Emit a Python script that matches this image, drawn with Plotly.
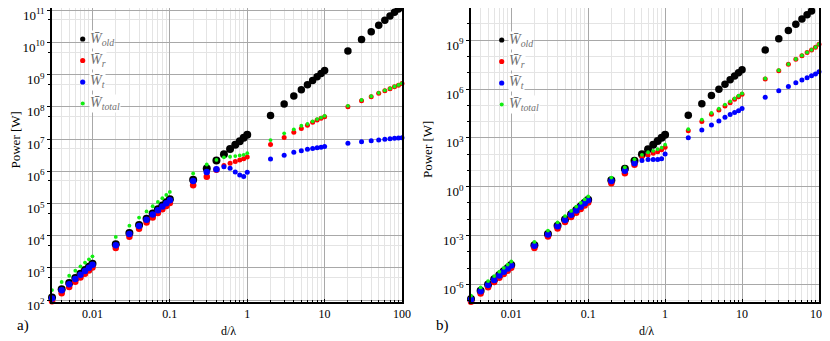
import math
import plotly.graph_objects as go

SERIF = "Liberation Serif, Times New Roman, serif"

# d/lambda sample points (same for both panels)
d_lambda = [0.003, 0.004, 0.005, 0.006, 0.007, 0.008, 0.009, 0.01,
            0.02, 0.03, 0.04, 0.05, 0.06, 0.07, 0.08, 0.09, 0.1,
            0.2, 0.3, 0.4, 0.5, 0.6, 0.7, 0.8, 0.9, 1,
            2, 3, 4, 5, 6, 7, 8, 9, 10,
            20, 30, 40, 50, 60, 70, 80, 90, 100]

# panel a) values [W]
a_old = [121, 216, 337, 485, 661, 863, 1090, 1350,
         5400, 12150, 21600, 33750, 48600, 66150, 86400, 109000, 135000,
         5.4e5, 1.22e6, 2.16e6, 3.38e6, 4.86e6, 6.6e6, 8.6e6, 1.09e7, 1.35e7,
         5.4e7, 1.22e8, 2.16e8, 3.38e8, 4.86e8, 6.6e8, 8.6e8, 1.09e9, 1.35e9,
         5.4e9, 1.22e10, 2.16e10, 3.38e10, 4.86e10, 6.6e10, 8.6e10, 1.09e11, 1.35e11]
a_r = [92, 164, 256, 369, 502, 656, 830, 1026,
       4100, 9230, 16400, 25650, 36900, 50300, 65700, 83100, 102600,
       3.7e5, 6.8e5, 1.12e6, 1.5e6, 1.78e6, 2.0e6, 2.24e6, 2.45e6, 2.75e6,
       6.8e6, 1.12e7, 1.62e7, 2.14e7, 2.7e7, 3.3e7, 3.9e7, 4.4e7, 4.9e7,
       1.0e8, 1.55e8, 2.04e8, 2.63e8, 3.16e8, 3.63e8, 4.17e8, 4.68e8, 5.25e8]
a_t = [112, 200, 312, 450, 612, 800, 1010, 1250,
       5000, 11200, 20000, 31000, 45000, 61000, 80000, 101000, 125000,
       5.0e5, 9.5e5, 1.15e6, 1.38e6, 1.23e6, 9.5e5, 7.6e5, 6.9e5, 9.3e5,
       2.4e6, 3.16e6, 3.9e6, 4.36e6, 4.8e6, 5.1e6, 5.4e6, 5.6e6, 5.9e6,
       7.4e6, 8.3e6, 8.9e6, 9.3e6, 9.8e6, 1.02e7, 1.05e7, 1.07e7, 1.10e7]
a_total = [204, 364, 568, 819, 1114, 1456, 1840, 2276,
           9100, 20430, 36400, 56650, 81900, 111300, 145700, 184100, 227600,
           8.5e5, 1.62e6, 2.24e6, 2.7e6, 2.82e6, 2.95e6, 3.1e6, 3.24e6, 3.63e6,
           9.3e6, 1.5e7, 2.0e7, 2.58e7, 2.95e7, 3.55e7, 4.15e7, 4.65e7, 5.25e7,
           1.07e8, 1.63e8, 2.13e8, 2.72e8, 3.26e8, 3.73e8, 4.27e8, 4.79e8, 5.36e8]

# panel b) values [W]
b_old = [1.25e-7, 3.96e-7, 9.7e-7, 2.0e-6, 3.7e-6, 6.3e-6, 1.0e-5, 1.55e-5,
         2.48e-4, 1.25e-3, 3.96e-3, 9.7e-3, 2.0e-2, 3.7e-2, 6.3e-2, 0.101, 0.155,
         2.48, 12.5, 39.6, 97, 200, 372, 634, 1014, 1550,
         2.48e4, 1.25e5, 3.96e5, 9.7e5, 2.0e6, 3.72e6, 6.34e6, 1.01e7, 1.55e7,
         2.48e8, 1.25e9, 3.96e9, 9.7e9, 2.0e10, 3.72e10, 6.34e10, 1.01e11, 1.55e11]
b_r = [8.5e-8, 2.7e-7, 6.6e-7, 1.36e-6, 2.5e-6, 4.3e-6, 6.8e-6, 1.05e-5,
       1.69e-4, 8.5e-4, 2.7e-3, 6.6e-3, 1.36e-2, 2.5e-2, 4.3e-2, 6.9e-2, 0.105,
       1.62, 6.6, 22, 65, 89, 112, 141, 182, 263,
       2750, 1.0e4, 2.8e4, 5.1e4, 9.1e4, 1.45e5, 2.34e5, 3.4e5, 4.8e5,
       4.2e6, 1.35e7, 3.3e7, 6.8e7, 1.12e8, 1.74e8, 2.5e8, 3.7e8, 5.6e8]
b_t = [1.16e-7, 3.7e-7, 9.0e-7, 1.86e-6, 3.45e-6, 5.9e-6, 9.4e-6, 1.44e-5,
       2.3e-4, 1.16e-3, 3.7e-3, 9.0e-3, 1.86e-2, 3.45e-2, 5.9e-2, 9.4e-2, 0.144,
       2.25, 9.5, 27.5, 40, 46, 46, 46, 52, 100,
       1020, 3020, 6170, 1.1e4, 1.86e4, 2.7e4, 3.55e4, 4.7e4, 6.3e4,
       3.1e5, 7.9e5, 1.41e6, 2.45e6, 3.6e6, 5.0e6, 6.6e6, 8.5e6, 1.17e7]
b_total = [2.0e-7, 6.4e-7, 1.56e-6, 3.2e-6, 5.95e-6, 1.02e-5, 1.62e-5, 2.5e-5,
           4.0e-4, 2.0e-3, 6.4e-3, 1.56e-2, 3.2e-2, 5.95e-2, 0.102, 0.163, 0.249,
           3.6, 15.5, 48, 90, 130, 160, 200, 250, 380,
           3390, 1.3e4, 3.4e4, 6.2e4, 1.1e5, 1.72e5, 2.7e5, 3.87e5, 5.4e5,
           4.5e6, 1.43e7, 3.44e7, 7.0e7, 1.16e8, 1.79e8, 2.57e8, 3.78e8, 5.7e8]

x_ticks = [0.01, 0.1, 1, 10, 100]
x_ticktext = ["0.01", "0.1", "1", "10", "100"]
a_yticks = [10 ** e for e in range(2, 12)]
b_yticks = [10 ** e for e in (-6, -3, 0, 3, 6, 9)]
legend_names = ["W̄<sub>old</sub>", "W̄<sub>r</sub>", "W̄<sub>t</sub>", "W̄<sub>total</sub>"]

GREEN = "#11ee11"
colors = ["black", "red", "blue", GREEN]

# the page body adds an 8px margin, so the figure is 8px smaller and
# every position below is given in page pixels and shifted back
W, H, OFF = 822, 333, 8
PLOT_BOTTOM = 302  # page y of the plot bottom
PLOT_H = PLOT_BOTTOM - OFF

def px_x(px):
    return (px - OFF) / W

def px_y(py):
    return (PLOT_BOTTOM - py) / PLOT_H

# marker size shrinks for the larger d/lambda groups, as in the original
size_old = [8 if x < 1.5 else 7.5 for x in d_lambda]
size_mid = [6.5 if x < 0.45 else 5 for x in d_lambda]
sizes = [size_old, size_mid, size_mid, [3.8] * len(d_lambda)]

fig = go.Figure()
for ys, xa, ya in [((a_old, a_r, a_t, a_total), "x", "y"),
                   ((b_old, b_r, b_t, b_total), "x2", "y2")]:
    for name, color, size, vals in zip(legend_names, colors, sizes, ys):
        fig.add_trace(go.Scatter(
            x=d_lambda, y=vals, mode="markers", name=name,
            xaxis=xa, yaxis=ya, cliponaxis=False, showlegend=False,
            marker=dict(color=color, size=size, opacity=1, line=dict(width=0))
        ))

x_minor = [m * 10 ** e for e in range(-3, 3) for m in range(2, 10)]
a_minor = [5 * 10 ** e for e in range(1, 11)]
b_minor = [10 ** e for e in range(-7, 12)]

def x_axis(domain, anchor):
    return dict(type="log", domain=domain, anchor=anchor, range=[-2.523, 2.0],
                tickvals=x_ticks, ticktext=x_ticktext, automargin=False,
                ticklabeloverflow="allow",
                showline=True, mirror=True, linecolor="black", linewidth=1.5,
                gridcolor="#a8a8a8", gridwidth=1, zeroline=False,
                ticks="inside", ticklen=3, tickcolor="black",
                tickfont=dict(family=SERIF, size=12, color="black"),
                minor=dict(tickvals=x_minor, showgrid=True, gridcolor="#e4e4e4",
                           ticks="inside", ticklen=2, tickcolor="black"))

def y_axis(rng, tickvals, minor, anchor):
    return dict(type="log", domain=[0, 1], anchor=anchor, range=rng,
                tickvals=tickvals, automargin=False, ticklabeloverflow="allow",
                ticklabelshift=5,
                ticktext=["10<sup>%d</sup>" % round(math.log10(v)) for v in tickvals],
                showline=True, mirror=True, linecolor="black", linewidth=1.5,
                gridcolor="#a8a8a8", gridwidth=1, zeroline=False,
                ticks="outside", ticklen=3, tickcolor="black",
                tickfont=dict(family=SERIF, size=13, color="black"),
                minor=dict(tickvals=minor, showgrid=True, gridcolor="#e4e4e4",
                           ticks="outside", ticklen=2, tickcolor="black"))

fig.update_layout(
    width=W, height=H,
    margin=dict(l=0, r=0, t=0, b=H - PLOT_H),
    paper_bgcolor="white", plot_bgcolor="white",
    xaxis=x_axis([px_x(52), px_x(402)], "y"),
    yaxis=y_axis([1.94, 11.068], a_yticks, a_minor, "x"),
    xaxis2=x_axis([px_x(471), px_x(819)], "y2"),
    yaxis2=y_axis([-7.09, 10.98], b_yticks, b_minor, "x2"),
    showlegend=False,
)

# hand-placed legends (marker dot + label) inside each panel
for mx, rows in [(82.7, [39, 60.5, 82, 103.5]), (501.7, [40, 61.5, 83, 104.5])]:
    for name, color, my in zip(legend_names, colors, rows):
        r = 2.0 if color == GREEN else 2.6
        fig.add_shape(type="circle", xref="paper", yref="paper",
                      x0=px_x(mx - r), x1=px_x(mx + r),
                      y0=px_y(my + r), y1=px_y(my - r),
                      fillcolor=color, line=dict(width=0))
        fig.add_annotation(text="<i>" + name + "</i>", xref="paper", yref="paper",
                           x=px_x(mx + 6), y=px_y(my), showarrow=False,
                           xanchor="left", yanchor="middle",
                           bgcolor="white", borderpad=0,
                           font=dict(family=SERIF, size=14, color="#707070"))

notes = [
    ("Power [W]", 14.5, 140, 13, -90),
    ("Power [W]", 427, 150, 13, -90),
    ("d/λ", 228, 331, 12, 0),
    ("d/λ", 646, 331, 12, 0),
    ("a)", 23, 325, 15, 0),
    ("b)", 443, 325, 15, 0),
]
for text, px, py, size, angle in notes:
    fig.add_annotation(text=text, xref="paper", yref="paper",
                       x=px_x(px), y=px_y(py), showarrow=False,
                       textangle=angle, xanchor="center", yanchor="middle",
                       font=dict(family=SERIF, size=size, color="black"))

fig.write_html("out.html")
